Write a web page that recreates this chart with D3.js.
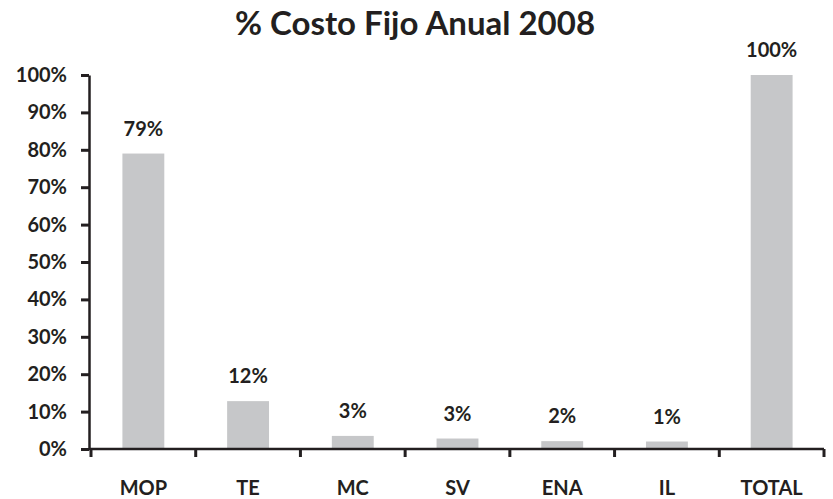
<!DOCTYPE html>
<html>
<head>
<meta charset="utf-8">
<script src="https://cdn.jsdelivr.net/npm/d3@7"></script>
<style>
  body { margin: 0; background: #fff; }
  text { font-family: Lato, "Open Sans", sans-serif; font-weight: bold; fill: #231f20; }
</style>
</head>
<body>
<div id="chart"></div>
<script>
// data
const categories = ["MOP", "TE", "MC", "SV", "ENA", "IL", "TOTAL"];
const values = [0.79, 0.128, 0.035, 0.028, 0.021, 0.020, 1.0];
const valueLabels = ["79%", "12%", "3%", "3%", "2%", "1%", "100%"];
const yTicks = [0, 0.1, 0.2, 0.3, 0.4, 0.5, 0.6, 0.7, 0.8, 0.9, 1.0];

const w = 833;
const h = 499;
const ink = "#231f20";

const svg = d3.select("#chart")
  .append("svg")
  .attr("width", w)
  .attr("height", h);

const xScale = d3.scaleBand()
  .domain(categories)
  .range([91, 824])
  .paddingInner(0.6)
  .paddingOuter(0.3);

const yScale = d3.scaleLinear()
  .domain([0, 1])
  .range([449, 75]);

// title
svg.append("text")
  .attr("x", 415)
  .attr("y", 35)
  .attr("text-anchor", "middle")
  .style("font-size", "33px")
  .text("% Costo Fijo Anual 2008");

// bars
svg.selectAll(".bar")
  .data(values)
  .enter()
  .append("rect")
  .attr("class", "bar")
  .attr("x", (d, i) => xScale(categories[i]))
  .attr("y", d => yScale(d))
  .attr("width", xScale.bandwidth())
  .attr("height", d => yScale(0) - yScale(d))
  .attr("fill", "#c6c7c9");

// value labels
svg.selectAll(".vlabel")
  .data(values)
  .enter()
  .append("text")
  .attr("class", "vlabel")
  .attr("x", (d, i) => xScale(categories[i]) + xScale.bandwidth() / 2)
  .attr("y", d => yScale(d) - 23)
  .attr("text-anchor", "middle")
  .attr("dominant-baseline", "middle")
  .style("font-size", "20px")
  .text((d, i) => valueLabels[i]);

// y axis
const yAxis = d3.axisLeft(yScale)
  .tickValues(yTicks)
  .tickFormat(d3.format(".0%"))
  .tickSize(8)
  .tickSizeOuter(0)
  .tickPadding(14);

const gy = svg.append("g")
  .attr("transform", "translate(89,0)")
  .call(yAxis);
gy.select(".domain").attr("stroke", ink).attr("stroke-width", 2.5);
gy.selectAll(".tick line").attr("stroke", ink).attr("stroke-width", 3);
gy.selectAll(".tick text")
  .style("font-size", "20px")
  .attr("fill", ink);

// x axis: ticks sit between categories, so draw them from the band edges
const xAxis = d3.axisBottom(xScale).tickSize(0).tickSizeOuter(0);
const gx = svg.append("g")
  .attr("transform", "translate(0," + yScale(0) + ")")
  .call(xAxis);
gx.select(".domain").remove();
gx.selectAll(".tick text")
  .attr("y", 46)
  .attr("dy", 0)
  .style("font-size", "20px")
  .attr("fill", ink);

gx.append("line")
  .attr("x1", 89)
  .attr("x2", 824)
  .attr("y1", 0)
  .attr("y2", 0)
  .attr("stroke", ink)
  .attr("stroke-width", 2.5);

const step = xScale.step();
const edges = d3.range(categories.length + 1).map(i => 91 + i * step);
gx.selectAll(".edge")
  .data(edges)
  .enter()
  .append("line")
  .attr("class", "edge")
  .attr("x1", d => d)
  .attr("x2", d => d)
  .attr("y1", 0)
  .attr("y2", 8)
  .attr("stroke", ink)
  .attr("stroke-width", 3);
</script>
</body>
</html>
